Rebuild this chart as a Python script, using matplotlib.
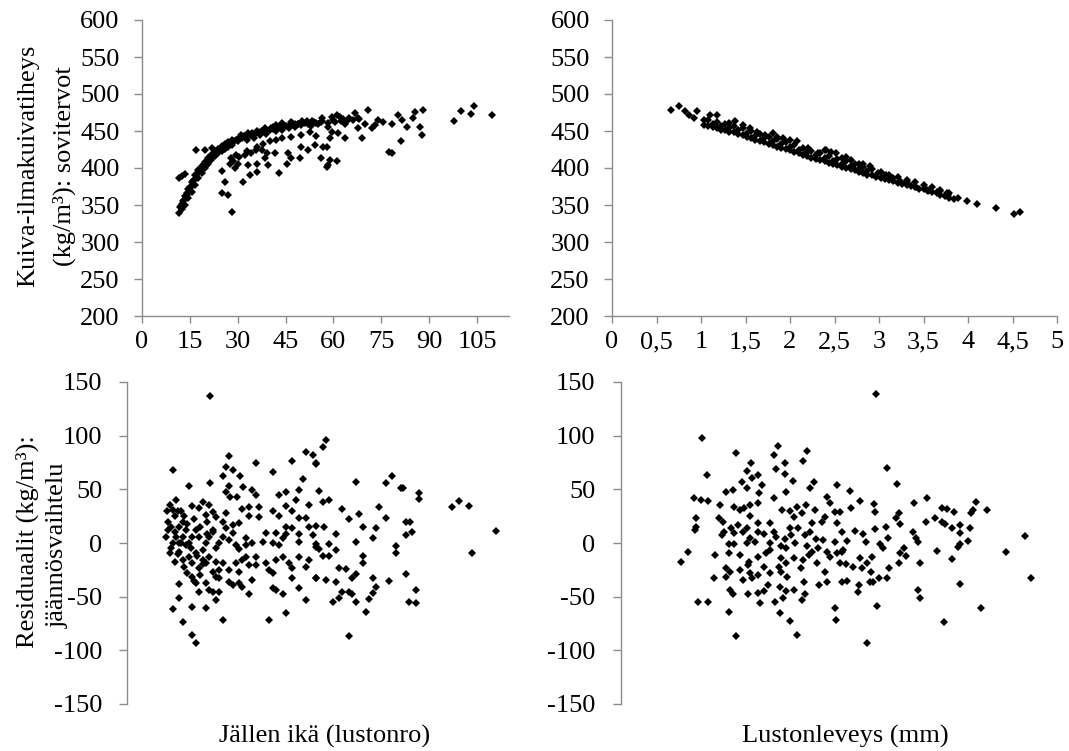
import matplotlib
matplotlib.use("Agg")
import matplotlib.pyplot as plt
from matplotlib.ticker import FuncFormatter

# ---------------- data ----------------
# Top-left: fitted density (kg/m3) vs ring age (lustonro)
fit_age_pts = [
    # dense fitted band
    (11.7, 339), (12.5, 344), (13.5, 350), (14.5, 359), (15.6, 368), (16.6, 377), (17.7, 386), (18.7, 393),
    (19.8, 400), (20.8, 406), (21.8, 411), (22.9, 416), (23.9, 420), (25.0, 423), (26.0, 426), (27.1, 429),
    (28.1, 431), (30.2, 437), (32.3, 442), (35.4, 446), (38.6, 449), (41.2, 453), (43.8, 456), (46.4, 458),
    (49.0, 459), (52.1, 460), (55.3, 460),
    (12.5, 352), (13.5, 362), (14.6, 372), (15.6, 381), (16.6, 390), (17.7, 397), (18.7, 403), (19.8, 408),
    (20.8, 413), (21.8, 418), (22.9, 423), (23.9, 426), (25.0, 430), (26.0, 433), (27.1, 435), (28.1, 438),
    (30.7, 442), (33.3, 447), (36.0, 450), (38.6, 454), (41.2, 456), (43.8, 458), (47.0, 461), (50.1, 463),
    (53.2, 464), (56.3, 464),
    (12.0, 347), (13.0, 355), (14.0, 364), (15.0, 373), (16.1, 382), (17.1, 390), (18.2, 397), (19.2, 403),
    (20.3, 408), (21.3, 413), (22.3, 417), (23.4, 421), (24.4, 424), (25.5, 427), (26.5, 430), (27.6, 432),
    (29.0, 436), (31.5, 441), (34.0, 445), (37.0, 448), (40.0, 452), (42.5, 455), (45.0, 457), (48.0, 460),
    (51.0, 461), (54.0, 462), (58.4, 461), (60.4, 462), (62.3, 463), (64.2, 464), (66.2, 465), (68.1, 466),
    (12.2, 349), (13.2, 357), (14.2, 366), (15.2, 375), (16.3, 384), (17.3, 392), (18.4, 399), (19.4, 405),
    (20.5, 410), (21.5, 415), (22.6, 419), (23.6, 423), (24.7, 426), (25.7, 429), (26.8, 432), (27.8, 434),
    (29.5, 438), (32.0, 443), (34.5, 447), (37.5, 450), (40.5, 454),
    (31.0, 445), (33.0, 438), (35.0, 441), (37.0, 444), (39.0, 446), (42.0, 450), (44.0, 452), (46.0, 454),
    (48.0, 456), (50.0, 458), (53.0, 457), (56.0, 462), (60.0, 465), (63.0, 466), (65.0, 468),
    # scattered points
    (11.7, 386), (12.5, 389), (13.4, 392), (16.8, 424), (19.7, 424), (21.9, 427), (25.0, 396), (26.0, 381),
    (25.0, 366), (26.9, 363), (28.2, 341), (31.7, 381), (33.9, 390), (36.0, 394), (29.1, 400), (30.2, 406),
    (33.4, 404), (36.0, 406), (38.6, 413), (39.6, 404), (41.7, 420), (43.0, 393), (45.4, 406), (45.9, 420),
    (46.8, 413), (49.5, 413), (50.0, 429), (52.2, 424), (54.3, 431), (56.0, 414), (56.9, 429), (58.2, 404),
    (28.0, 413), (29.4, 418), (32.8, 423), (37.6, 424), (39.1, 420), (35.6, 424), (27.5, 405), (28.5, 410),
    (30.4, 415), (32.3, 418), (34.3, 420), (36.2, 428), (38.1, 432), (40.1, 436), (42.0, 438), (43.9, 440),
    (46.8, 442), (49.7, 445), (52.6, 448), (54.6, 443), (42.0, 458), (43.9, 461), (46.8, 462), (48.8, 459),
    (51.7, 463), (54.6, 461), (56.5, 468), (59.5, 469), (61.1, 472), (62.1, 469), (58.4, 456), (63.7, 460),
    (66.8, 474), (67.8, 467), (70.9, 478), (70.0, 460), (73.1, 458), (74.1, 465), (75.7, 462), (78.3, 459),
    (80.1, 472), (81.4, 465), (83.0, 456), (84.8, 467), (85.6, 476), (88.2, 478), (87.2, 455), (87.7, 444),
    (81.2, 436), (78.3, 420), (77.3, 422), (59.5, 449), (61.5, 447), (63.7, 440), (59.0, 440), (57.9, 429),
    (59.0, 411), (61.1, 409), (57.9, 402), (68.9, 440), (67.8, 454), (72.0, 454), (97.9, 463), (100.0, 477),
    (103.0, 473), (104.1, 484), (109.8, 472),
]

# Top-right: fitted density (kg/m3) vs ring width (mm)
fit_width_pts = [
    (1.03, 458), (1.13, 455), (1.22, 452), (1.32, 449), (1.42, 446), (1.52, 442), (1.61, 438), (1.71, 435),
    (1.81, 431), (1.90, 427), (2.00, 424), (2.10, 420), (2.19, 416), (2.29, 412), (2.39, 409), (2.48, 405),
    (2.58, 402), (2.68, 398), (2.77, 395), (2.87, 391), (2.97, 388), (3.07, 385), (3.16, 382), (3.26, 379),
    (3.36, 376), (3.45, 372), (3.55, 369), (3.65, 366), (3.74, 362), (3.84, 358),
    (1.08, 465), (1.18, 462), (1.27, 459), (1.37, 457), (1.47, 454), (1.56, 450), (1.66, 446), (1.76, 442),
    (1.85, 439), (1.95, 435), (2.05, 431), (2.15, 427), (2.24, 423), (2.34, 420), (2.44, 416), (2.53, 412),
    (2.63, 409), (2.73, 405), (2.82, 401), (2.92, 398), (3.02, 395), (3.11, 391), (3.21, 388), (3.31, 384),
    (3.40, 381), (3.50, 377), (3.60, 374), (3.69, 370), (3.79, 366),
    (1.13, 460), (1.22, 457), (1.32, 454), (1.42, 451), (1.52, 447), (1.61, 443), (1.71, 440), (1.81, 436),
    (1.90, 432), (2.00, 429), (2.10, 425), (2.19, 421), (2.29, 417), (2.39, 414), (2.48, 410), (2.58, 406),
    (2.68, 403), (2.77, 399), (2.87, 396), (3.07, 389),
    (1.08, 457), (1.18, 454), (1.27, 451), (1.37, 448), (1.47, 444), (1.56, 440), (1.66, 437), (1.76, 433),
    (1.85, 429), (1.95, 426), (2.05, 422), (2.15, 418), (2.24, 414), (2.34, 411), (2.44, 407), (2.53, 404),
    (2.63, 400), (2.73, 397), (2.82, 393), (2.92, 390), (3.02, 387), (3.11, 384), (3.21, 380), (3.31, 377),
    (3.40, 374), (3.50, 371), (3.60, 367), (3.69, 364), (3.79, 360),
    (0.66, 478), (0.75, 484), (0.82, 477), (0.86, 471), (0.92, 467), (0.96, 477), (1.03, 465), (1.10, 471),
    (1.18, 472), (1.38, 463), (1.55, 454), (1.72, 445), (1.85, 442), (1.92, 441), (2.08, 436), (2.20, 427),
    (2.32, 420), (2.46, 422), (2.41, 424), (2.52, 420), (2.58, 413), (2.68, 411), (2.77, 406), (2.90, 403),
    (2.99, 393), (3.08, 390), (3.31, 381), (3.42, 375), (3.54, 370), (3.65, 367), (3.78, 364), (3.89, 360),
    (3.99, 355), (4.10, 352), (4.31, 346), (4.52, 338), (4.58, 341), (1.32, 461), (1.47, 458), (1.63, 449),
    (1.81, 447), (2.00, 438), (2.39, 425), (2.63, 415), (2.82, 405), (3.16, 386), (3.24, 383), (3.69, 369),
    (3.76, 366),
]

# Bottom-left: residuals (kg/m3) vs ring age
res_age_pts = [
    (24.8, 137), (13.8, 68), (30.6, 81), (29.7, 71), (31.6, 68), (28.6, 62.5), (33.8, 62), (24.8, 55.6),
    (18.6, 53.5), (38.6, 75), (43.6, 66.5), (49.5, 76), (52.6, 59.4), (53.6, 84.8), (55.8, 82), (56.6, 73.7),
    (34.7, 52.5), (30.6, 53), (29.7, 47.9), (30.8, 43), (32.8, 42.6), (37.5, 49.4), (38.6, 44.8), (45.6, 44.8),
    (47.5, 47.9), (51.6, 49.4), (50.6, 40), (47.5, 34.5), (54.5, 35.5), (14.7, 40), (13.8, 30.8), (19.5, 34.5),
    (22.6, 38.6), (21.6, 32.4), (24.5, 35.5), (25.6, 29.2), (23.6, 26.1), (26.6, 24.6), (29.5, 28.3),
    (34.5, 31.4), (36.6, 33.3), (36.6, 25.2), (39.5, 33.3), (39.5, 24.6), (43.6, 30.2), (45.6, 25.2),
    (47.5, 15.3), (49.5, 13.7), (49.5, 30.2), (51.6, 23), (53.5, 23), (54.5, 14.6), (56.6, 15.9), (55.8, 7.5),
    (56.6, -0.9), (51.6, 8.4), (51.6, 1.3), (47.5, 8.4), (46.6, 4.4), (44.5, 9), (43.6, 0.4), (45.6, -1.8),
    (41.6, 9), (40.6, 1.3), (37.5, 0.4), (35.6, 4.4), (35.6, -1.8), (33.6, 18.4), (31.6, 16.8), (29.5, 13.7),
    (28.6, 19.9), (31.6, 9), (30.6, 2.8), (32.6, -1.8), (33.6, -5.8), (28.6, 5.9), (27.6, 0.4), (26.6, -4.9),
    (25.6, 12.2), (24.5, 5.9), (23.6, -0.3), (22.6, -6.5), (21.6, 5.9), (20.6, 12.2), (19.5, 5.9),
    (18.6, -0.3), (17.6, 12.2), (16.6, 19.9), (15.6, 15.3), (16.6, 5.9), (17.6, -1.8), (15.6, -0.3),
    (14.5, 5.9), (13.6, -0.3), (11.7, 5.9), (12.8, -9), (15.6, -8), (16.6, -15.8), (18.6, -12.7),
    (19.5, -18.9), (20.6, -9.6), (22.6, -15.8), (21.6, -23.5), (23.6, -18.9), (24.5, -12.7), (25.6, -26.7),
    (27.6, -25.1), (26.6, -31.3), (28.6, -18.9), (30.6, -25.1), (32.6, -18.9), (33.6, -26.7), (34.5, -15.8),
    (35.6, -12.7), (36.6, -20.4), (38.6, -12.7), (38.6, -20.4), (41.6, -18.9), (42.5, -25.1), (43.6, -28.2),
    (44.5, -15.8), (46.6, -12.7), (48.6, -18.9), (49.5, -23.5), (51.6, -12.7), (53.5, -22), (54.5, -15.8),
    (56.6, -32.9), (19.5, -31.3), (20.6, -37.5), (23.6, -37.5), (24.5, -43.7), (25.6, -45.3), (27.6, -45.3),
    (27.6, -32.9), (30.6, -36), (31.6, -39.1), (33.6, -37.5), (34.5, -40.6), (36.6, -47.5), (37.5, -34.4),
    (43.6, -42.2), (44.5, -43.7), (46.6, -47.5), (49.5, -32.9), (51.6, -42.2), (53.5, -53), (15.6, -38.1),
    (15.6, -51.5), (19.5, -59.3), (21.6, -45.3), (23.6, -60.8), (26.6, -53), (13.8, -61.8), (16.7, -73.2),
    (28.6, -71.7), (42.5, -71.7), (47.5, -64.9), (19.5, -85.7), (20.6, -92.8),
    (12.2, 20), (13.2, 15), (14.2, 25), (14.2, 10), (15.1, 30), (16.1, 0), (17.0, 25), (18.0, 18),
    (19.0, -5), (19.9, 22), (20.9, -12), (21.8, 15), (22.8, -20), (23.8, 8), (15.1, -10), (17.0, -22),
    (13.2, -5), (12.2, 12), (11.8, 30), (12.7, 35), (14.2, -18), (16.1, 30), (18.0, -28), (19.9, -35),
    (21.8, -30), (23.8, 20), (25.7, 10), (26.7, -18),
    (59.5, 96), (58.6, 89.2), (56.7, 74.3), (68.6, 57.2), (79.5, 62.5), (77.6, 55.6), (82.0, 51), (82.8, 51),
    (87.5, 47), (87.5, 40.7), (57.6, 48.5), (58.6, 37.9), (60.6, 40.1), (64.5, 31.4), (66.6, 22.4),
    (69.5, 26.8), (75.6, 33.9), (77.6, 23), (70.6, 15.3), (74.5, 13.7), (73.6, 4.4), (68.6, 0.7), (62.5, 8.4),
    (60.6, -1.2), (59.1, 14.6), (83.5, 20), (84.7, 20), (85.5, 10.6), (83.5, 7.5), (80.5, -2.7),
    (80.5, -9.6), (70.6, -11.7), (70.6, -18.3), (62.5, -6.5), (60.6, -11.7), (58.6, -11.7), (57.6, -5.8),
    (56.7, -3.4), (63.6, -23.5), (65.6, -24.5), (68.6, -28.8), (67.5, -32.9), (73.6, -32.9), (78.6, -35.4),
    (83.5, -28.8), (59.5, -34.4), (56.7, -32.9), (62.5, -36), (74.5, -41.3), (73.6, -46.2), (72.5, -52.4),
    (64.5, -45.3), (66.6, -45.3), (67.5, -47.5), (63.6, -51.5), (61.6, -55.2), (68.6, -55.2), (71.6, -64.5),
    (86.6, -43.7), (84.5, -55.2), (86.6, -56.2), (66.6, -86.6), (97.4, 33.3), (99.4, 39.2), (102.4, 34.5),
    (103.5, -9.3), (110.5, 11),
]

# Bottom-right: residuals (kg/m3) vs ring width (mm)
res_width_pts = [
    (0.92, 97.5), (0.97, 63.3), (1.30, 83.5), (1.77, 90.4), (1.73, 82), (2.09, 85.7), (2.05, 76.4),
    (1.47, 74.8), (1.42, 67), (1.55, 63.3), (1.48, 60.2), (1.36, 56.5), (1.42, 51.5), (1.59, 54),
    (1.56, 46.3), (1.26, 49.4), (1.19, 47.8), (1.75, 68.6), (1.85, 74.2), (1.85, 64), (1.94, 57.8),
    (1.86, 47.2), (1.72, 41.6), (2.17, 56.5), (2.13, 50.9), (2.43, 54), (0.83, 42.2), (0.91, 40),
    (0.98, 39.1), (1.12, 35.4), (1.28, 33.8), (1.34, 30.7), (1.39, 32.9), (1.46, 35.4), (1.54, 36.9),
    (1.45, 25.5), (1.11, 23), (1.15, 19.3), (0.85, 23), (0.84, 12.1), (0.85, 15.3), (1.82, 30.7),
    (1.90, 29.8), (1.98, 33.8), (2.04, 27.6), (2.08, 35.4), (2.18, 30.7), (1.95, 24.5), (2.32, 43.2),
    (2.35, 36.9), (2.41, 29.2), (2.30, 24.5), (2.47, 29.2), (2.26, 19.9), (2.43, 18.3), (2.15, 18.3),
    (1.99, 13.7), (1.90, 13.7), (1.68, 18.3), (1.55, 18.3), (1.42, 13.7), (1.32, 16.8), (1.24, 14.3),
    (1.16, 10.6), (1.14, 7.4), (1.28, 9), (1.38, 10.6), (1.45, 4.3), (1.55, 10.6), (1.61, 8.1),
    (1.72, 10.6), (1.75, 5.9), (1.85, 3.7), (1.92, 7.4), (2.07, 7.4), (2.13, 10.6), (2.20, 3.7),
    (2.28, 2.8), (2.41, 1.2), (2.49, 10.6), (1.22, -1.3), (1.28, -1.3), (1.42, -0.3), (1.51, 1.2),
    (1.68, -0.3), (1.80, -2.5), (1.86, -5.0), (1.96, -0.3), (2.09, -2.5), (2.15, -8.1), (2.22, -5),
    (2.32, -8.1), (2.43, -9.6), (2.50, -6.5), (1.06, -11.2), (1.22, -9.6), (1.34, -11.2), (1.44, -17.4),
    (1.55, -12.7), (1.64, -9.6), (1.68, -6.5), (1.80, -14.3), (1.86, -19), (1.95, -14.3), (2.05, -15.9),
    (2.12, -11.2), (2.21, -19), (2.35, -12.7), (2.47, -19), (0.76, -8.7), (0.68, -18), (1.05, -33),
    (1.18, -23.6), (1.19, -31.4), (1.23, -26.7), (1.34, -25.2), (1.43, -20.5), (1.45, -28.3), (1.54, -29.8),
    (1.61, -22), (1.48, -33), (1.38, -34.5), (1.68, -28.3), (1.78, -22), (1.80, -26.7), (1.87, -31.4),
    (2.03, -23.6), (2.06, -36), (2.30, -26.7), (2.32, -36), (2.23, -39.1), (2.49, -36), (1.66, -39.1),
    (1.79, -40.7), (1.61, -44.7), (1.55, -47), (1.43, -47.9), (1.23, -43.8), (1.26, -47.9), (1.86, -44.7),
    (1.95, -43.8), (2.04, -53.1), (2.07, -47.9), (1.83, -51.5), (1.74, -55.3), (1.57, -56.2), (0.87, -55.3),
    (0.98, -55.3), (1.22, -64.6), (1.79, -65.5), (1.90, -72.7), (2.41, -60.3), (2.42, -71.7), (1.30, -86.4),
    (1.98, -85.7),
    (2.87, 138.5), (2.99, 69.6), (3.11, 55), (2.58, 48.4), (2.69, 39.1), (2.59, 32.9), (2.85, 36),
    (2.86, 28.6), (3.13, 27.6), (3.10, 23), (3.14, 17.4), (3.30, 37), (3.44, 41.6), (3.43, 19.9),
    (3.53, 23.6), (3.61, 32.9), (3.67, 31.7), (3.75, 29.2), (3.61, 19.9), (3.65, 17.4), (3.72, 13.7),
    (3.82, 16.8), (3.82, 9), (3.93, 13.7), (3.94, 27.6), (3.96, 30.7), (3.99, 38.5), (4.12, 30.7),
    (3.91, 1.9), (3.79, -3.4), (3.81, -1.2), (3.56, -7.1), (3.72, -14.9), (3.29, 10.6), (3.32, 4.9),
    (3.34, 1.2), (3.36, -19), (3.21, -11.8), (3.18, -4.4), (3.14, -9.6), (3.13, -19), (3.02, -23),
    (3.00, 4.3), (2.98, 15.2), (2.86, 13), (2.92, -1.3), (2.95, -5), (2.83, -12.7), (2.77, -19),
    (2.82, -26.7), (2.71, -23.6), (2.69, -13.7), (2.61, -22), (2.53, -19.9), (2.49, -8.1), (2.54, 1.9),
    (2.63, 11.2), (2.73, 8.1), (2.76, 1.2), (2.84, -36), (2.91, -33), (2.99, -33), (2.80, -36),
    (2.68, -39.1), (2.67, -45.3), (2.54, -35.4), (2.88, -58.7), (3.34, -43.8), (3.37, -51), (3.82, -38.5),
    (4.05, -60.9), (3.63, -73.3), (2.77, -92.9), (4.33, -8.7), (4.55, 6.8), (4.61, -33),
]

age_ticks = [0, 15, 30, 45, 60, 75, 90, 105]
width_ticks = [0, 0.5, 1, 1.5, 2, 2.5, 3, 3.5, 4, 4.5, 5]
dens_ticks = [200, 250, 300, 350, 400, 450, 500, 550, 600]
res_ticks = [-150, -100, -50, 0, 50, 100, 150]

# ---------------- styling ----------------
plt.rcParams["font.family"] = ["Liberation Serif", "DejaVu Serif"]
plt.rcParams["axes.unicode_minus"] = False
FS = 19

W, H = 1069, 751
fig = plt.figure(figsize=(W / 100, H / 100), dpi=100)
GRAY = "#8c8c8c"


def ax_at(l, r, t, b):
    return fig.add_axes([l / W, 1 - b / H, (r - l) / W, (b - t) / H])


def style(ax, show_x, ypad):
    for s in ("top", "right"):
        ax.spines[s].set_visible(False)
    ax.spines["left"].set_color(GRAY)
    ax.spines["left"].set_linewidth(1.0)
    ax.spines["bottom"].set_color(GRAY)
    ax.spines["bottom"].set_linewidth(1.0)
    ax.tick_params(axis="y", direction="out", length=6, width=1.0, color=GRAY,
                   labelcolor="black", pad=ypad, labelsize=FS)
    if show_x:
        ax.tick_params(axis="x", direction="out", length=5, width=1.0, color=GRAY,
                       labelcolor="black", pad=6, labelsize=FS)
    else:
        ax.spines["bottom"].set_visible(False)
        ax.tick_params(axis="x", bottom=False, labelbottom=False)
    ax.set_facecolor("none")


def draw(ax, pts):
    xs = [p[0] for p in pts]
    ys = [p[1] for p in pts]
    ax.plot(xs, ys, linestyle="none", marker="D", ms=3.8, mew=0,
            color="black", clip_on=False)


ax1 = ax_at(141.9, 508.9, 20, 316)
ax2 = ax_at(612, 1057, 20, 316)
ax3 = ax_at(127.4, 510.8, 382, 704)
ax4 = ax_at(620.5, 1065.5, 382, 704)

draw(ax1, fit_age_pts)
ax1.set_xlim(0, 115)
ax1.set_ylim(200, 600)
ax1.set_xticks(age_ticks)
ax1.set_yticks(dens_ticks)
style(ax1, True, 10)

draw(ax2, fit_width_pts)
ax2.set_xlim(0, 5)
ax2.set_ylim(200, 600)
ax2.set_xticks(width_ticks)
ax2.xaxis.set_major_formatter(FuncFormatter(lambda v, p: ("%g" % v).replace(".", ",")))
ax2.set_yticks(dens_ticks)
style(ax2, True, 10)

draw(ax3, res_age_pts)
ax3.set_xlim(0, 115)
ax3.set_ylim(-150, 150)
ax3.set_yticks(res_ticks)
style(ax3, False, 12)

draw(ax4, res_width_pts)
ax4.set_xlim(0, 5)
ax4.set_ylim(-150, 150)
ax4.set_yticks(res_ticks)
style(ax4, False, 12)

# axis titles (each line placed separately)
fig.text(28 / W, 1 - 166 / H, "Kuiva-ilmakuivatiheys", rotation=90, ha="center", va="center", fontsize=FS)
fig.text(64 / W, 1 - 166 / H, "(kg/m³): sovitervot", rotation=90, ha="center", va="center", fontsize=FS)
fig.text(27 / W, 1 - 542 / H, "Residuaalit (kg/m³):", rotation=90, ha="center", va="center", fontsize=FS)
fig.text(58 / W, 1 - 545 / H, "jäännösvaihtelu", rotation=90, ha="center", va="center", fontsize=FS)
fig.text(325 / W, 1 - 736 / H, "Jällen ikä (lustonro)", ha="center", va="center", fontsize=FS)
fig.text(845 / W, 1 - 736 / H, "Lustonleveys (mm)", ha="center", va="center", fontsize=FS)

fig.savefig("out.png", dpi=100, facecolor="white")
